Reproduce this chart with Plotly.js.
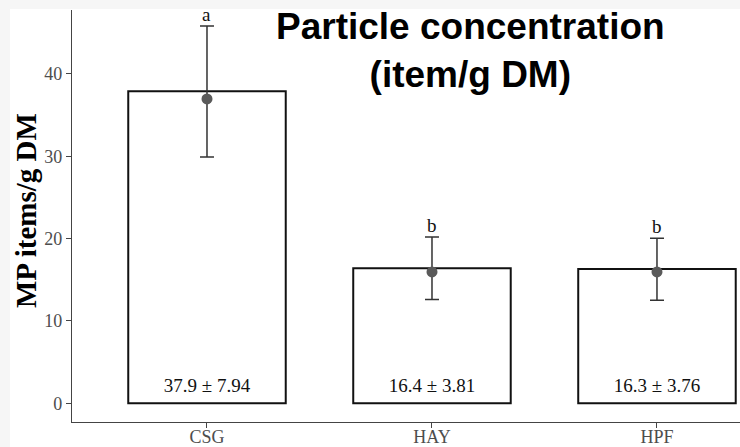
<!DOCTYPE html>
<html>
<head>
<meta charset="utf-8">
<script src="https://cdn.plot.ly/plotly-3.0.1.min.js"></script>
<style>html,body{margin:0;padding:0;background:#fff;overflow:hidden;}#chart{width:740px;height:447px;}</style>
</head>
<body>
<div id="chart"></div>
<script>
// Data
const categories = ['CSG', 'HAY', 'HPF'];
const barMeans = [37.9, 16.4, 16.3];
const barSDs = [7.94, 3.81, 3.76];
const pointValues = [36.95, 15.95, 15.95];
const errUpper = [45.8, 20.2, 20.05];
const errLower = [29.9, 12.6, 12.5];
const groupLetters = ['a', 'b', 'b'];
const yTickVals = [0, 10, 20, 30, 40];

const serif = 'Liberation Serif, Times New Roman, serif';
const sans = 'Liberation Sans, Arial, Helvetica, sans-serif';

const barTrace = {
  type: 'bar', x: categories, y: barMeans, width: 0.7,
  marker: {color: '#ffffff', line: {color: '#111111', width: 2}},
  hoverinfo: 'skip', showlegend: false
};
const labelTrace = {
  type: 'scatter', mode: 'text', x: categories,
  y: categories.map(() => 2.0),
  text: barMeans.map((m, i) => m.toFixed(1) + ' ± ' + barSDs[i].toFixed(2)),
  textposition: 'middle center',
  textfont: {family: serif, size: 19, color: '#111111'},
  hoverinfo: 'skip', showlegend: false
};
const pointTrace = {
  type: 'scatter', mode: 'markers', x: categories, y: pointValues,
  marker: {size: 11, color: '#5a5a5a'},
  error_y: {
    type: 'data', symmetric: false,
    array: errUpper.map((u, i) => u - pointValues[i]),
    arrayminus: errLower.map((l, i) => pointValues[i] - l),
    color: '#333333', thickness: 1.5, width: 7
  },
  hoverinfo: 'skip', showlegend: false
};

const annotations = categories.map((c, i) => ({
  x: c, y: errUpper[i], xref: 'x', yref: 'y', text: groupLetters[i],
  showarrow: false, yanchor: 'bottom', yshift: -1,
  font: {family: serif, size: 19, color: '#111111'}
}));
annotations.push({
  xref: 'paper', yref: 'paper', x: 0.596, y: 1.015, yanchor: 'top', xanchor: 'center',
  text: '<b>Particle concentration</b><br><b>(item/g DM)</b>', showarrow: false,
  font: {family: sans, size: 37, color: '#000000'}
});
annotations.push({
  xref: 'paper', yref: 'paper', x: 0, xshift: -46, y: 0.512, xanchor: 'center', yanchor: 'middle',
  textangle: -90, text: '<b>MP items/g DM</b>', showarrow: false,
  font: {family: serif, size: 29, color: '#000000'}
});

const layout = {
  width: 740, height: 447,
  margin: {l: 72, r: 0, t: 10, b: 25.3, pad: 0},
  paper_bgcolor: '#ffffff', plot_bgcolor: '#ffffff',
  showlegend: false,
  xaxis: {
    type: 'category', range: [-0.6, 2.369], showgrid: false, zeroline: false,
    showline: true, linecolor: '#444444', linewidth: 1.2,
    ticks: 'outside', ticklen: 5, tickwidth: 1, tickcolor: '#444444',
    ticklabelstandoff: -7,
    tickfont: {family: serif, size: 18, color: '#4d4d4d'}, automargin: false
  },
  yaxis: {
    range: [-2.27, 47.75], showgrid: false, zeroline: false,
    showline: true, linecolor: '#444444', linewidth: 1.2,
    tickvals: yTickVals, ticks: 'outside', ticklen: 5, tickwidth: 1, tickcolor: '#444444',
    tickfont: {family: serif, size: 18, color: '#4d4d4d'}, automargin: false
  },
  annotations: annotations,
  shapes: [
    {type: 'rect', xref: 'paper', yref: 'paper', x0: -0.2, x1: (10 - 72) / 668, y0: -0.2, y1: 1.2,
     fillcolor: '#f6f6f6', line: {width: 0}, layer: 'above'},
    {type: 'rect', xref: 'paper', yref: 'paper', x0: -0.2, x1: 1.2, y0: 1.0024, y1: 1.2,
     fillcolor: '#f6f6f6', line: {width: 0}, layer: 'above'}
  ]
};

Plotly.newPlot('chart', [barTrace, labelTrace, pointTrace], layout, {displayModeBar: false, staticPlot: true});
</script>
</body>
</html>
